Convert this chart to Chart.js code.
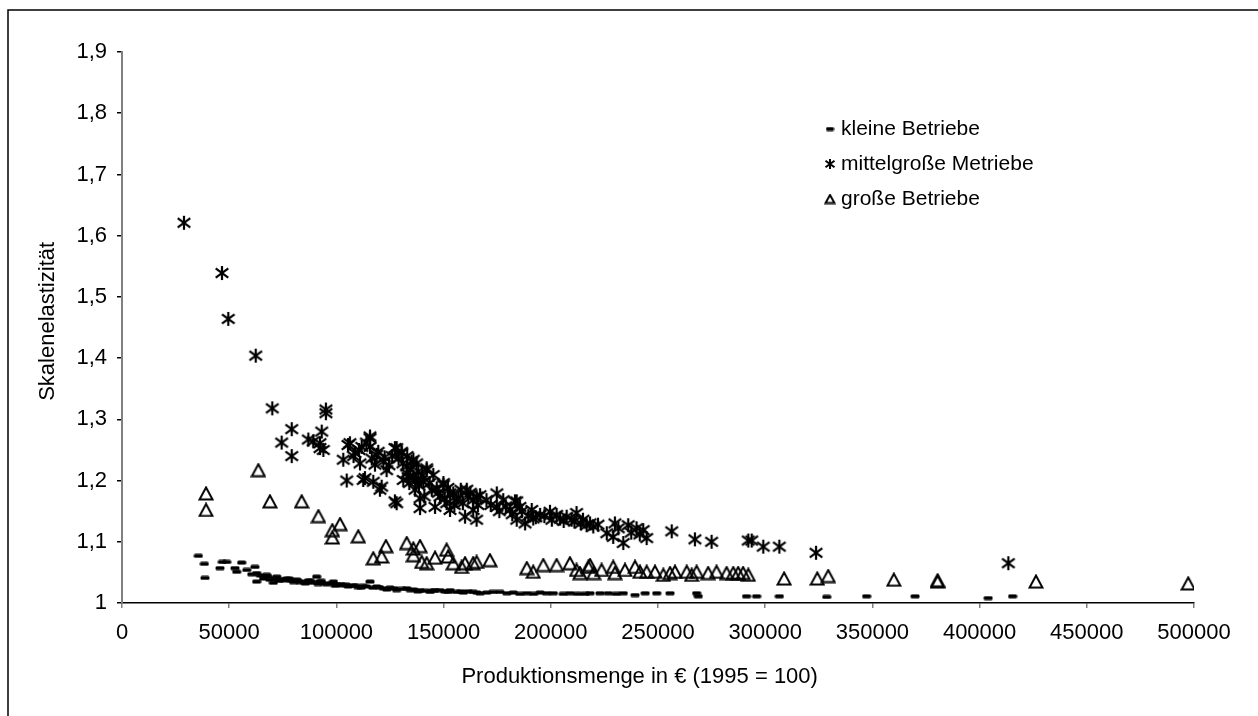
<!DOCTYPE html>
<html>
<head>
<meta charset="utf-8">
<script src="https://cdn.jsdelivr.net/npm/chart.js@4.4.0/dist/chart.umd.min.js"></script>
<style>
html,body{margin:0;padding:0;background:#fff}
#wrap{width:1258px;height:716px}
</style>
</head>
<body>
<div id="wrap"><canvas id="chart" width="1258" height="716"></canvas></div>
<script>

// series names as in the legend
const seriesNames = ["kleine Betriebe", "mittelgroße Metriebe", "große Betriebe"]

// kleine Betriebe (dash marker)
const smallX = [35600,38400,38700,45700,46800,48800,52700,53500,55800,58200,60500,62000,62800,62800,64500,66000,67500,68000,69000,70600,71500,72200,73000,74000,75500,76800,78000,79000,80000,81500,82000,83000,84600,85500,87000,88000,89000,90800,91500,92300,93000,94000,95500,97000,98600,99500,100500,102000,103200,104500,105500,107900,109000,110000,111500,112500,114000,115700,117000,118800,120000,121900,123500,125000,127000,128100,130500,132800,134500,136000,138000,139000,141500,143700,145000,146000,148300,150500,152000,153000,156000,158000,159200,161500,163800,165500,167000,170100,173000,176300,179500,182500,185500,188800,192000,195000,198000,201200,205800,209000,212500,216000,218300,222900,226800,230500,233800,239300,244000,249400,255600,268000,268800,291300,296000,306600,328700,347300,369900,404000,415400]
const smallY = [1.077,1.064,1.041,1.057,1.067,1.067,1.057,1.051,1.066,1.054,1.047,1.059,1.049,1.035,1.045,1.040,1.046,1.043,1.038,1.033,1.040,1.043,1.036,1.039,1.037,1.040,1.040,1.036,1.034,1.038,1.036,1.034,1.035,1.032,1.037,1.036,1.033,1.043,1.031,1.035,1.036,1.032,1.031,1.032,1.035,1.028,1.030,1.031,1.029,1.030,1.027,1.029,1.028,1.026,1.025,1.028,1.027,1.035,1.025,1.027,1.026,1.024,1.022,1.025,1.024,1.021,1.023,1.024,1.021,1.022,1.019,1.021,1.020,1.018,1.020,1.021,1.021,1.019,1.018,1.021,1.018,1.019,1.017,1.019,1.018,1.017,1.016,1.017,1.018,1.018,1.016,1.017,1.015,1.016,1.015,1.017,1.016,1.016,1.015,1.016,1.015,1.015,1.016,1.016,1.016,1.015,1.016,1.013,1.016,1.016,1.016,1.016,1.011,1.011,1.011,1.011,1.010,1.011,1.011,1.008,1.011]

// mittelgroße Betriebe (asterisk marker)
const mediumX = [28900,46640,49580,62360,70100,95100,95100,79150,74480,79150,86900,89200,92350,93150,92350,93900,103200,104800,105400,106300,108000,108700,110500,111000,111800,112500,113300,114000,115670,115670,115700,116500,117200,118000,118800,119500,120300,121100,121900,122500,123400,124500,126000,127300,127300,128100,128100,129000,130400,130400,131000,131200,132800,132800,133000,133500,134000,134500,135100,135900,136000,136700,137000,137400,138200,138500,139000,139000,139500,140000,140500,141000,142100,142100,143500,144500,145200,146000,146800,147500,148300,149900,149900,150500,151400,152000,153000,153000,154500,155000,156100,157000,158000,159000,160000,160800,161500,162500,163800,163800,165400,165400,166000,167000,170000,172000,174800,174800,176000,177800,179000,181000,182000,183300,184100,184100,185600,186500,188000,189500,191100,191800,193000,195000,197000,199600,200500,202700,204300,206000,207400,209700,211000,212000,214000,215000,216700,218300,219800,222000,226100,229100,229900,231500,233800,236100,237500,240000,241500,243100,244700,256400,267200,275000,292100,293700,299100,306600,323700,413400]
const mediumY = [1.621,1.539,1.464,1.404,1.318,1.316,1.310,1.284,1.262,1.240,1.267,1.264,1.261,1.280,1.253,1.250,1.234,1.200,1.258,1.261,1.240,1.245,1.250,1.228,1.255,1.201,1.204,1.262,1.272,1.255,1.269,1.236,1.198,1.226,1.242,1.247,1.185,1.190,1.231,1.238,1.217,1.225,1.240,1.253,1.166,1.163,1.253,1.236,1.245,1.247,1.228,1.201,1.223,1.212,1.240,1.206,1.196,1.218,1.231,1.234,1.206,1.185,1.200,1.228,1.215,1.192,1.171,1.155,1.201,1.208,1.198,1.174,1.217,1.220,1.196,1.185,1.209,1.157,1.187,1.180,1.174,1.193,1.196,1.170,1.163,1.188,1.152,1.179,1.179,1.160,1.168,1.172,1.185,1.163,1.141,1.185,1.174,1.180,1.168,1.152,1.136,1.174,1.160,1.176,1.168,1.160,1.179,1.157,1.150,1.168,1.158,1.152,1.145,1.166,1.136,1.166,1.157,1.150,1.130,1.142,1.152,1.138,1.140,1.144,1.142,1.149,1.136,1.144,1.138,1.134,1.141,1.136,1.133,1.147,1.130,1.136,1.127,1.130,1.125,1.128,1.114,1.108,1.130,1.122,1.098,1.127,1.115,1.122,1.112,1.119,1.106,1.117,1.104,1.100,1.102,1.102,1.092,1.092,1.082,1.065]

// große Betriebe (triangle marker)
const largeX = [39200,39200,63600,69000,83800,91600,98100,98100,101700,110200,117200,121100,123100,132800,135900,135900,139000,139800,142100,146000,151400,152100,154500,158400,160000,163800,165400,171600,188800,191800,196500,202700,208900,212000,213600,217500,218300,220000,223700,229100,229900,234600,239300,241600,244700,248600,252500,255600,257900,263400,265700,268000,273400,277300,282000,285100,287400,289700,292100,308800,324300,329400,360000,380400,380400,426300,497300]
const largeY = [1.179,1.152,1.217,1.166,1.166,1.142,1.119,1.107,1.129,1.109,1.073,1.076,1.093,1.098,1.089,1.078,1.093,1.067,1.065,1.074,1.087,1.076,1.065,1.059,1.065,1.065,1.067,1.070,1.057,1.051,1.062,1.062,1.065,1.054,1.049,1.059,1.062,1.049,1.054,1.059,1.049,1.054,1.059,1.051,1.051,1.051,1.046,1.049,1.051,1.051,1.046,1.051,1.049,1.051,1.049,1.049,1.049,1.049,1.046,1.040,1.040,1.044,1.038,1.035,1.037,1.035,1.032]

const FONT = "'Liberation Sans', Arial, sans-serif"

// marker images
function makeDash(w, h){
const c = document.createElement("canvas")
c.width = w; c.height = h
const g = c.getContext("2d")
g.fillStyle = "#000"
g.beginPath()
g.roundRect(0.5, 0.5, w - 1, h - 1, 1.5)
g.fill()
return c
}

function makeStar(s, lw){
const c = document.createElement("canvas")
c.width = s; c.height = s
const g = c.getContext("2d")
g.strokeStyle = "#000"
g.lineWidth = lw
const m = s/2, r = s/2 - 1
g.beginPath()
g.moveTo(m, m - r); g.lineTo(m, m + r)
g.moveTo(m - r*0.9, m - r*0.65); g.lineTo(m + r*0.9, m + r*0.65)
g.moveTo(m - r*0.9, m + r*0.65); g.lineTo(m + r*0.9, m - r*0.65)
g.stroke()
return c
}

function makeTriangle(w, h){
const c = document.createElement("canvas")
c.width = w; c.height = h
const g = c.getContext("2d")
g.strokeStyle = "#000"
g.lineWidth = 2
g.beginPath()
g.moveTo(w/2, 1.5)
g.lineTo(w - 1.5, h - 1.5)
g.lineTo(1.5, h - 1.5)
g.closePath()
g.stroke()
return c
}

const markers = [makeDash(10, 5), makeStar(16, 2.2), makeTriangle(16, 15)]
const legendMarkers = [makeDash(9, 5), makeStar(12, 2), makeTriangle(12, 11)]

function pts(xs, ys){
return xs.map((x, i) => ({x: x, y: ys[i]}))
}

const frameAndLegend = {
id: "frameAndLegend",
beforeDraw(chart){
const ctx = chart.ctx
ctx.save()
ctx.fillStyle = "#fff"
ctx.fillRect(0, 0, chart.width, chart.height)
ctx.strokeStyle = "#000"
ctx.lineWidth = 1.5
ctx.beginPath()
ctx.moveTo(8, 716)
ctx.lineTo(8, 10)
ctx.lineTo(1258, 10)
ctx.stroke()
ctx.restore()
},
afterDraw(chart){
const ctx = chart.ctx
ctx.save()
ctx.font = "21px " + FONT
ctx.fillStyle = "#000"
ctx.textBaseline = "middle"
const rows = [129, 164, 199]
seriesNames.forEach((name, i) => {
const m = legendMarkers[i]
ctx.drawImage(m, 830 - m.width/2, rows[i] - m.height/2)
ctx.fillText(name, 841, rows[i])
})
ctx.restore()
}
}

new Chart(document.getElementById("chart"), {
type: "scatter",
data: {
datasets: [
{label: seriesNames[0], data: pts(smallX, smallY), pointStyle: markers[0]},
{label: seriesNames[1], data: pts(mediumX, mediumY), pointStyle: markers[1]},
{label: seriesNames[2], data: pts(largeX, largeY), pointStyle: markers[2]}
]
},
options: {
responsive: false,
animation: false,
devicePixelRatio: 1,
layout: {padding: {left: 0, top: 52, right: 64, bottom: 0}},
plugins: {
legend: {display: false},
tooltip: {enabled: false}
},
scales: {
x: {
type: "linear",
min: 0,
max: 500000,
afterFit: s => { s.height = 113 },
ticks: {
stepSize: 50000,
padding: 12,
color: "#000",
font: {family: FONT, size: 22},
maxRotation: 0,
callback: v => String(v)
},
grid: {drawOnChartArea: false, drawTicks: true, tickLength: 5, color: "#808080", lineWidth: 1.5},
border: {color: "#000", width: 1.5},
title: {
display: true,
// trailing spaces keep the title a little left of the axis centre, as in the original
text: "Produktionsmenge in € (1995 = 100)\u00a0\u00a0\u00a0\u00a0\u00a0\u00a0",
color: "#000",
font: {family: FONT, size: 22},
padding: {top: 0, bottom: 26}
}
},
y: {
type: "linear",
min: 1,
max: 1.9,
afterFit: s => { s.width = 122 },
ticks: {
stepSize: 0.1,
padding: 10,
color: "#000",
font: {family: FONT, size: 22},
callback: v => String(Math.round(v*10)/10).replace(".", ",")
},
grid: {drawOnChartArea: false, drawTicks: true, tickLength: 5, color: "#000", lineWidth: 1.5},
border: {color: "#808080", width: 2},
title: {
display: true,
text: "\u00a0\u00a0Skalenelastizität",
color: "#000",
font: {family: FONT, size: 22},
padding: {top: 35, bottom: 0}
}
}
}
},
plugins: [frameAndLegend]
})

</script>
</body>
</html>
